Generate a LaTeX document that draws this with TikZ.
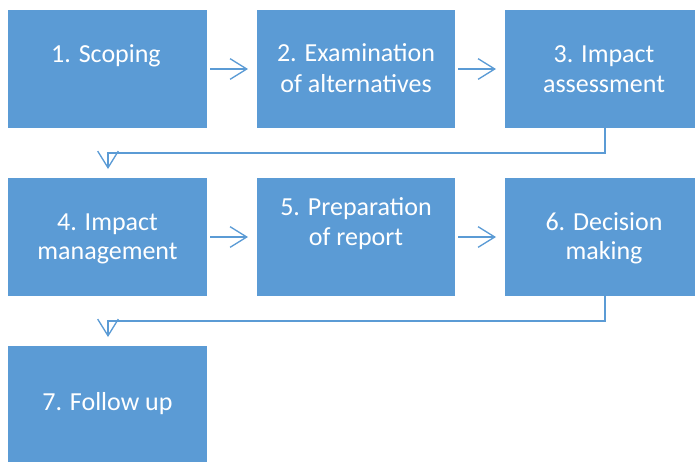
\documentclass[tikz,border=0pt]{standalone}
\usepackage{fontspec}
\setmainfont{Carlito}
\usetikzlibrary{arrows.meta}
\definecolor{boxblue}{HTML}{5B9BD5}
\tikzset{
  box/.style={fill=boxblue, draw=none, inner sep=0pt, outer sep=0pt},
  txt/.style={text=white, font=\fontsize{19.5}{23}\selectfont, inner sep=0pt, anchor=base},
  conn/.style={draw=boxblue, line width=1pt, -{Straight Barb[length=12.5pt, width=15.5pt, line width=1pt]}},
}
\begin{document}
\begin{tikzpicture}[x=0.75pt, y=-0.75pt]
\useasboundingbox (0,0) rectangle (697,462);
% boxes
\node[box, minimum width=199*0.75pt, minimum height=118*0.75pt] (b1) at (107.5,69) {};
\node[box, minimum width=198*0.75pt, minimum height=118*0.75pt] (b2) at (356,69) {};
\node[box, minimum width=190*0.75pt, minimum height=118*0.75pt] (b3) at (600,69) {};
\node[box, minimum width=199*0.75pt, minimum height=118*0.75pt] (b4) at (107.5,237) {};
\node[box, minimum width=198*0.75pt, minimum height=118*0.75pt] (b5) at (356,237) {};
\node[box, minimum width=190*0.75pt, minimum height=118*0.75pt] (b6) at (600,237) {};
\node[box, minimum width=199*0.75pt, minimum height=116*0.75pt] (b7) at (107.5,404) {};
% texts
\node[txt] (t1) at (106,62) {1. Scoping};
\node[txt] (t2a) at (356,61) {2. Examination};
\node[txt] (t2b) at (356,92) {of alternatives};
\node[txt] (t3a) at (604,62) {3. Impact};
\node[txt] (t3b) at (604,92) {assessment};
\node[txt] (t4a) at (107.5,230) {4. Impact};
\node[txt] (t4b) at (107.5,259) {management};
\node[txt] (t5a) at (356,215) {5. Preparation};
\node[txt] (t5b) at (356,245) {of report};
\node[txt] (t6a) at (604,230) {6. Decision};
\node[txt] (t6b) at (604,259) {making};
\node[txt] (t7) at (107.5,410) {7. Follow up};
% connector coordinates
\coordinate (a12s) at (210,69);  \coordinate (a12e) at (248,69);
\coordinate (a23s) at (458,69);  \coordinate (a23e) at (496,69);
\coordinate (a45s) at (210,237); \coordinate (a45e) at (248,237);
\coordinate (a56s) at (458,237); \coordinate (a56e) at (496,237);
\coordinate (c34s) at (605,128); \coordinate (c34e) at (108,169);
\coordinate (c67s) at (605,296); \coordinate (c67e) at (108,337);
\draw[conn] (a12s) -- (a12e);
\draw[conn] (a23s) -- (a23e);
\draw[conn] (a45s) -- (a45e);
\draw[conn] (a56s) -- (a56e);
\draw[conn] (c34s) -- (605,153) -| (c34e);
\draw[conn] (c67s) -- (605,321) -| (c67e);
\end{tikzpicture}
\end{document}
